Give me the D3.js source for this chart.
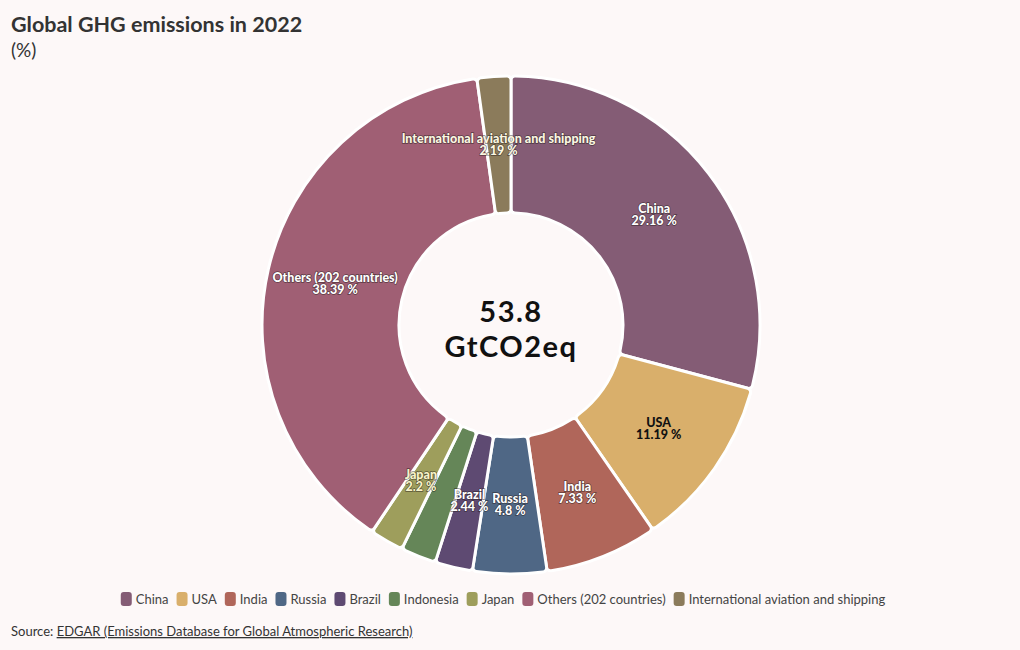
<!DOCTYPE html>
<html>
<head>
<meta charset="utf-8">
<script src="https://cdn.jsdelivr.net/npm/d3@7"></script>
<style>
  html, body { margin: 0; padding: 0; background: #fdf8f8; }
  svg { display: block; }
  text { font-family: "Source Sans Pro", "Lato", "Noto Sans", sans-serif; }
</style>
</head>
<body>
<svg id="chart" width="1020" height="650"></svg>
<script>
const categories = ["China", "USA", "India", "Russia", "Brazil", "Indonesia", "Japan", "Others (202 countries)", "International aviation and shipping"];
const values = [29.16, 11.19, 7.33, 4.8, 2.44, 2.3, 2.2, 38.39, 2.19];
const colors = ["#845c75", "#d9af6b", "#b0665a", "#4f6785", "#5e4a72", "#658658", "#9e9e5c", "#a05f74", "#8b7b5b"];
const showLabel = [true, true, true, true, true, false, true, true, true];
const labelColors = ["#ffffff", "#111111", "#ffffff", "#ffffff", "#ffffff", "#ffffff", "#f7f3c8", "#ffffff", "#fbf7e2"];
const centerLines = ["53.8", "GtCO2eq"];
const title = "Global GHG emissions in 2022";
const subtitle = "(%)";

const svg = d3.select("#chart");
const W = 1020, H = 650;
svg.append("rect").attr("width", W).attr("height", H).attr("fill", "#fdf8f8");

svg.append("text").attr("x", 11).attr("y", 32)
  .attr("font-size", 21.5).attr("font-weight", 700).attr("fill", "#333")
  .text(title);
svg.append("text").attr("x", 11).attr("y", 57)
  .attr("font-size", 19).attr("fill", "#333")
  .text(subtitle);

const cx = 511, cy = 325, rOuter = 249, rInner = 112;
const data = categories.map((c, i) => ({ name: c, value: values[i], color: colors[i], show: showLabel[i], lc: labelColors[i] }));

const pie = d3.pie().value(d => d.value).sort(null).padAngle(0);
const arcs = pie(data);
const arc = d3.arc().innerRadius(rInner).outerRadius(rOuter).cornerRadius(4);
const labelArc = d3.arc().innerRadius(rInner).outerRadius(rOuter);

const g = svg.append("g").attr("transform", `translate(${cx},${cy})`);
g.selectAll("path.slice").data(arcs).join("path")
  .attr("class", "slice")
  .attr("d", arc)
  .attr("fill", d => d.data.color)
  .attr("stroke", "#ffffff")
  .attr("stroke-width", 3)
  .attr("stroke-linejoin", "round");

const lab = g.selectAll("g.lab").data(arcs.filter(d => d.data.show)).join("g")
  .attr("class", "lab")
  .attr("transform", d => `translate(${labelArc.centroid(d)})`);

lab.each(function(d) {
  const s = d3.select(this);
  const halo = d.data.lc === "#111111" ? "none" : "rgba(40,30,30,0.6)";
  const t = s.append("text").attr("text-anchor", "middle")
    .attr("font-size", 12.5).attr("font-weight", 900)
    .attr("fill", d.data.lc)
    .style("paint-order", "stroke")
    .attr("stroke", halo).attr("stroke-width", 1.4);
  t.append("tspan").attr("x", 0).attr("y", -2).text(d.data.name);
  t.append("tspan").attr("x", 0).attr("y", 10).text(d3.format("")(d.data.value) + " %");
});

const ct = svg.append("text").attr("text-anchor", "middle")
  .attr("font-family", "'DejaVu Sans', sans-serif")
  .attr("font-weight", 700).attr("font-size", 29).attr("fill", "#111")
  .attr("letter-spacing", 1.5);
ct.append("tspan").attr("x", cx).attr("y", 322).text(centerLines[0]);
ct.append("tspan").attr("x", cx).attr("y", 357).text(centerLines[1]);

// legend
const lg = svg.append("g");
let x = 0;
data.forEach(d => {
  const it = lg.append("g");
  it.append("rect").attr("x", 0).attr("y", -7).attr("width", 11).attr("height", 14).attr("rx", 3).attr("fill", d.color);
  const t = it.append("text").attr("x", 15).attr("y", 5).attr("font-size", 13).attr("fill", "#444").text(d.name);
  const w = 15 + t.node().getComputedTextLength();
  it.attr("transform", `translate(${x},599)`);
  x += w + 8;
});
const totalW = x - 8;
lg.attr("transform", `translate(${(W - totalW) / 2 - 7},0)`);

const src = svg.append("text").attr("x", 11).attr("y", 636).attr("font-size", 13).attr("fill", "#333");
src.append("tspan").text("Source: ");
src.append("tspan").attr("text-decoration", "underline").text("EDGAR (Emissions Database for Global Atmospheric Research)");
</script>
</body>
</html>
